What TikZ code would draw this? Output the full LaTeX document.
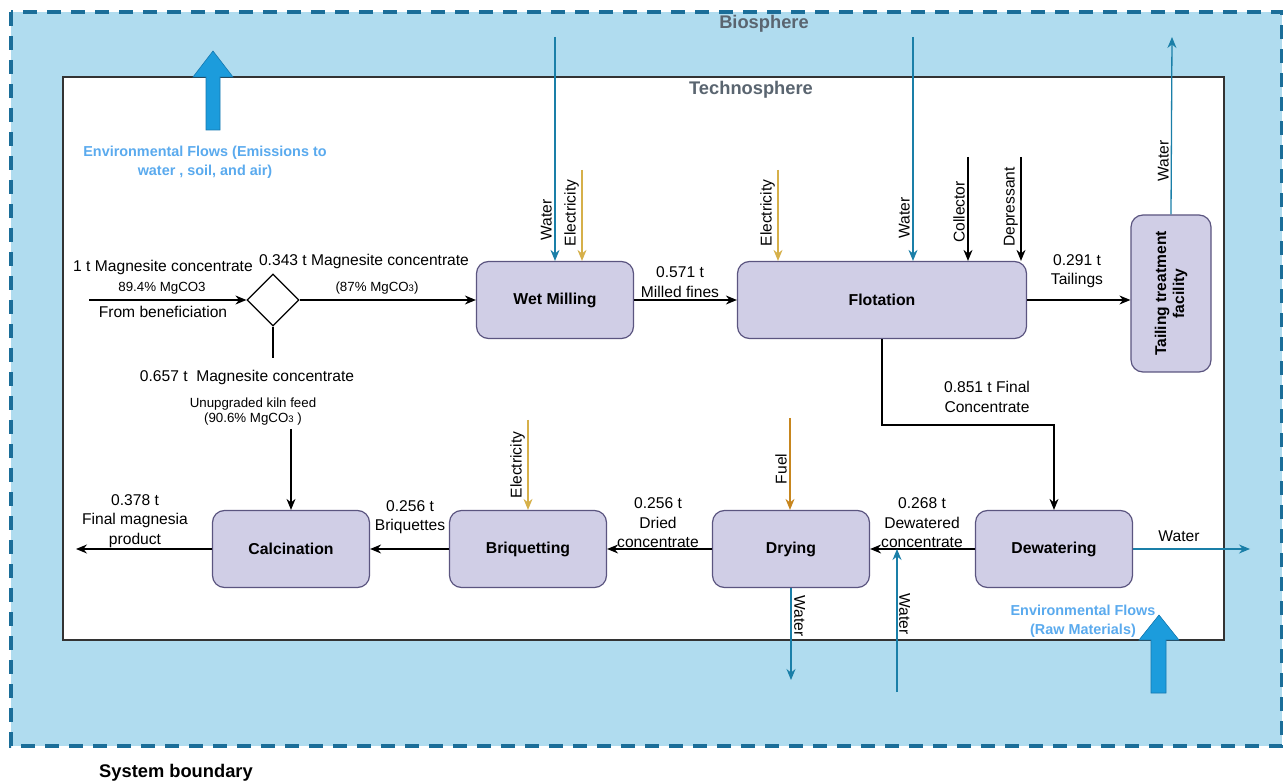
\documentclass[tikz,border=0pt]{standalone}
\usepackage{fontspec}
\setmainfont{Liberation Sans}
\usetikzlibrary{arrows.meta,shapes.geometric}
\definecolor{bio}{HTML}{B0DCEF}
\definecolor{bound}{HTML}{1B6E99}
\definecolor{boxfill}{HTML}{D0CEE6}
\definecolor{boxdraw}{HTML}{5B5580}
\definecolor{wat}{HTML}{1A7FA8}
\definecolor{elec}{HTML}{D6B04A}
\definecolor{fuelc}{HTML}{C7861E}
\definecolor{envtxt}{HTML}{5AAAEE}
\definecolor{bigarrow}{HTML}{1C9CDC}
\definecolor{bigarrowdraw}{HTML}{1478B0}
\definecolor{graytxt}{HTML}{5A6570}
\newcommand{\sthree}{{\fontsize{9.5}{10}\selectfont 3}}
\begin{document}
\begin{tikzpicture}[x=1pt,y=-1pt,
  proc/.style={draw=boxdraw, fill=boxfill, rounded corners=12pt, line width=1.2pt,
    minimum width=157pt, minimum height=77pt, align=center,
    font=\bfseries\fontsize{15.8}{18}\selectfont},
  flow/.style={-{Stealth[length=11pt,width=9pt]}, line width=1.3pt, draw=black},
  wflow/.style={-{Stealth[length=11pt,width=9pt]}, line width=1.3pt, draw=wat},
  eflow/.style={-{Stealth[length=11pt,width=9pt]}, line width=1.3pt, draw=elec},
  fflow/.style={-{Stealth[length=11pt,width=9pt]}, line width=1.3pt, draw=fuelc},
  lab/.style={font=\fontsize{15.6}{19.5}\selectfont, align=center, inner sep=0pt},
  smalllab/.style={font=\fontsize{13.3}{15}\selectfont, align=center, inner sep=0pt},
  vlab/.style={font=\fontsize{15.6}{18}\selectfont, inner sep=0pt},
  envlab/.style={font=\bfseries\fontsize{14.4}{19}\selectfont, text=envtxt, align=center, inner sep=0pt},
  titlelab/.style={font=\bfseries\fontsize{18.3}{21}\selectfont, text=graytxt, inner sep=0pt},
  bigarr/.style={fill=bigarrow, draw=bigarrowdraw, line width=0.6pt}
]
\useasboundingbox (0,0) rectangle (1283,783);
% biosphere / system boundary
\fill[bio] (11,12) rectangle (1282,746);
\draw[bound, line width=3.5pt, dash pattern=on 14pt off 10pt] (11,12) rectangle (1282,746);
% technosphere
\draw[line width=1.2pt, draw=black!80, fill=white] (63,77) rectangle (1224,640);
\node[titlelab] (bios) at (764,24) {Biosphere};
\node[titlelab] (techs) at (751,90) {Technosphere};
\node[font=\bfseries\fontsize{18.3}{21}\selectfont, inner sep=0pt] (sysb) at (176,773) {System boundary};

% big environmental arrows
\draw[bigarr] (206,130) -- (206,77) -- (193,77) -- (213,51) -- (233,77) -- (220,77) -- (220,130) -- cycle;
\draw[bigarr] (1151,693) -- (1151,640) -- (1139,640) -- (1159,615) -- (1179,640) -- (1166,640) -- (1166,693) -- cycle;
\node[envlab] (env1) at (205,162) {Environmental Flows (Emissions to\\water , soil, and air)};
\node[envlab] (env2) at (1083,621) {Environmental Flows\\(Raw Materials)};

% process nodes
\node[proc] (wm) at (555,300) {Wet Milling};
\node[proc, minimum width=289pt] (fl) at (882,300) {Flotation};
\node[proc, rotate=90, minimum width=157pt, minimum height=80pt,
  font=\bfseries\fontsize{15.6}{18}\selectfont] (tt) at (1171,293.5) {Tailing treatment\\facility};
\node[proc] (dw) at (1054,549) {Dewatering};
\node[proc] (dr) at (791,549) {Drying};
\node[proc] (bq) at (528,549) {Briquetting};
\node[proc] (ca) at (291,549) {Calcination};
\node[diamond, draw, line width=1.2pt, minimum width=52pt, minimum height=52pt, inner sep=0pt] (sp) at (273,300) {};

% feed and split
\coordinate (in) at (89,300);
\draw[flow] (in) -- (sp.west);
\node[lab] (l1) at (163,267) {1 t Magnesite concentrate};
\node[smalllab] (l2) at (162,288) {89.4\% MgCO3};
\node[lab] (l3) at (163,312) {From beneficiation};
\draw[flow] (sp.east) -- (wm.west);
\node[lab] (l4) at (364,261) {0.343 t Magnesite concentrate};
\node[smalllab] (l5) at (377,288) {(87\% MgCO\sthree)};
\coordinate (spb) at (273,358);
\draw[line width=1.3pt] (sp.south) -- (spb);
\node[lab] (l6) at (247,377) {0.657 t \ Magnesite concentrate};
\node[smalllab] (l7) at (253,412) {Unupgraded kiln feed\\(90.6\% MgCO\sthree\ )};
\coordinate (kf) at (291,429);
\draw[flow] (kf) -- (ca.north);

% wet milling inputs
\coordinate (wmw) at (555,37);
\draw[wflow] (wmw) -- (wm.north);
\node[vlab, rotate=90, anchor=south] (wmwl) at (552,220) {Water};
\coordinate (wme) at (582,170);
\draw[eflow] (wme) -- (wme |- wm.north);
\node[vlab, rotate=90, anchor=south] (wmel) at (579,213) {Electricity};

% wet milling -> flotation
\draw[flow] (wm.east) -- (fl.west);
\node[lab] (l8) at (680,282) {0.571 t\\Milled fines};

% flotation inputs
\coordinate (fle) at (778,170);
\draw[eflow] (fle) -- (fle |- fl.north);
\node[vlab, rotate=90, anchor=south] (flel) at (775,213) {Electricity};
\coordinate (flw) at (913,37);
\draw[wflow] (flw) -- (flw |- fl.north);
\node[vlab, rotate=90, anchor=south] (flwl) at (910,218) {Water};
\coordinate (flc) at (968,157);
\draw[flow] (flc) -- (flc |- fl.north);
\node[vlab, rotate=90, anchor=south] (flcl) at (965,212) {Collector};
\coordinate (fld) at (1021,157);
\draw[flow] (fld) -- (fld |- fl.north);
\node[vlab, rotate=90, anchor=south] (fldl) at (1018,207) {Depressant};

% flotation -> tailings
\draw[flow] (fl.east) -- (fl.east -| tt.north);
\node[lab] (l9) at (1077,271) {0.291 t\\Tailings};
\coordinate (ttw) at (1172,37);
\draw[wflow] (tt.east) -- (ttw);
\node[vlab, rotate=90, anchor=south] (ttwl) at (1169,161) {Water};

% flotation -> dewatering
\coordinate (fk) at (882,425);
\draw[flow] (fl.south) -- (fk) -| (dw.north);
\node[lab] (l10) at (987,397) {0.851 t Final\\Concentrate};

% dewatering
\coordinate (dwo) at (1250,549);
\draw[wflow] (dw.east) -- (dwo);
\node[lab] (l11) at (1179,536) {Water};
\draw[flow] (dw.west) -- (dr.east);
\node[lab] (l12) at (922,523) {0.268 t\\Dewatered\\concentrate};
\coordinate (wu) at (897,692);
\draw[wflow] (wu) -- (wu |- dr.east);
\node[vlab, rotate=-90, anchor=south] (wul) at (899,614) {Water};

% drying
\coordinate (fu) at (790,418);
\draw[fflow] (fu) -- (fu |- dr.north);
\node[vlab, rotate=90, anchor=south] (ful) at (787,469) {Fuel};
\coordinate (dro) at (791,680);
\draw[wflow] (dr.south) -- (dro);
\node[vlab, rotate=-90, anchor=south] (drol) at (794,616) {Water};
\draw[flow] (dr.west) -- (bq.east);
\node[lab] (l13) at (658,523) {0.256 t\\Dried\\concentrate};

% briquetting
\coordinate (bqe) at (528,420);
\draw[eflow] (bqe) -- (bq.north);
\node[vlab, rotate=90, anchor=south] (bqel) at (525,465) {Electricity};
\draw[flow] (bq.west) -- (ca.east);
\node[lab] (l14) at (410,517) {0.256 t\\Briquettes};

% calcination out
\coordinate (out) at (76,549);
\draw[flow] (ca.west) -- (out);
\node[lab] (l15) at (135,521) {0.378 t\\Final magnesia\\product};
\end{tikzpicture}
\end{document}
